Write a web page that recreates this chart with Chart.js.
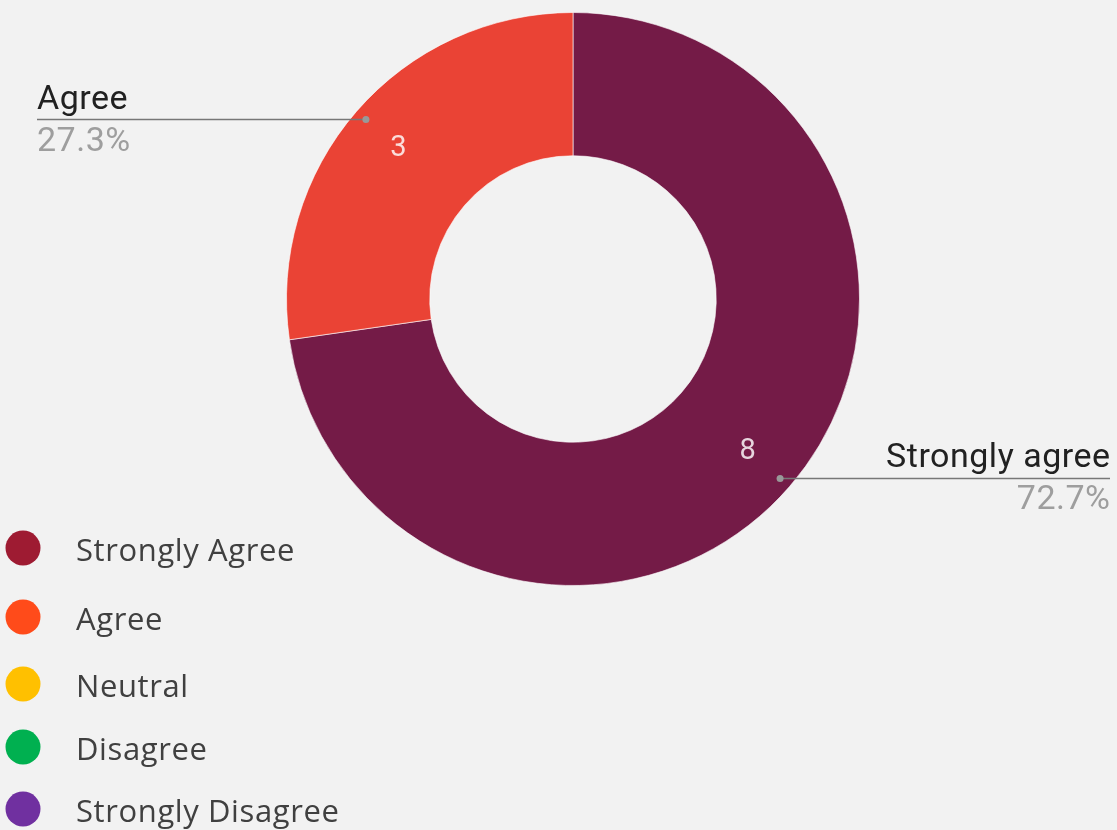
<!DOCTYPE html>
<html><head><meta charset="utf-8">
<script src="https://cdn.jsdelivr.net/npm/chart.js@4/dist/chart.umd.min.js"></script>
<style>
html,body{margin:0;padding:0;background:#f2f2f2;}
#wrap{position:relative;width:1117px;height:830px;}
</style></head>
<body><div id="wrap"><canvas id="c" width="1117" height="830"></canvas></div>
<script>
const categories = ['Strongly agree', 'Agree'];
const values = [8, 3];
const sliceColors = ['#741b47', '#ea4335'];
const legendLabels = ['Strongly Agree', 'Agree', 'Neutral', 'Disagree', 'Strongly Disagree'];
const legendColors = ['#9e1b32', '#ff4b1a', '#ffc000', '#00b050', '#7030a0'];

const calloutPlugin = {
  id: 'callouts',
  afterDatasetsDraw(chart) {
    const ctx = chart.ctx;
    const meta = chart.getDatasetMeta(0);
    const total = values.reduce((a, b) => a + b, 0);
    meta.data.forEach((arc, i) => {
      const mid = (arc.startAngle + arc.endAngle) / 2;
      const cx = arc.x, cy = arc.y;
      const rv = 231;
      ctx.save();
      ctx.font = '29px Roboto';
      ctx.fillStyle = 'rgba(255,255,255,0.82)';
      ctx.textAlign = 'center';
      ctx.textBaseline = 'middle';
      ctx.fillText(String(values[i]), cx + rv * Math.cos(mid), cy + rv * Math.sin(mid) + 1);
      const rd = 274;
      const dx = cx + rd * Math.cos(mid), dy = cy + rd * Math.sin(mid);
      const right = Math.cos(mid) > 0;
      const endX = right ? 1110 : 37;
      ctx.strokeStyle = '#777777';
      ctx.lineWidth = 1.6;
      ctx.beginPath(); ctx.moveTo(dx, dy); ctx.lineTo(endX, dy); ctx.stroke();
      ctx.fillStyle = '#999999';
      ctx.beginPath(); ctx.arc(dx, dy, 3.5, 0, Math.PI * 2); ctx.fill();
      ctx.textAlign = right ? 'right' : 'left';
      ctx.textBaseline = 'alphabetic';
      ctx.font = '34px Roboto';
      ctx.letterSpacing = '0.5px';
      const tx = right ? endX + 0.5 : endX;
      ctx.fillStyle = '#212121';
      ctx.fillText(categories[i], tx, dy - 11);
      ctx.fillStyle = '#9e9e9e';
      ctx.fillText((values[i] / total * 100).toFixed(1) + '%', tx, dy + 31);
      ctx.restore();
    });
    ctx.save();
    const ys = [548, 617, 684, 747, 809];
    legendLabels.forEach((lab, i) => {
      ctx.fillStyle = legendColors[i];
      ctx.beginPath(); ctx.arc(23, ys[i], 17.5, 0, Math.PI * 2); ctx.fill();
      ctx.fillStyle = '#404040';
      ctx.font = '31px "Open Sans"';
      ctx.letterSpacing = '0.6px';
      ctx.textAlign = 'left';
      ctx.textBaseline = 'middle';
      ctx.fillText(lab, 76, ys[i] + 4);
    });
    ctx.restore();
  }
};

new Chart(document.getElementById('c'), {
  type: 'doughnut',
  data: {
    labels: categories,
    datasets: [{
      data: values,
      backgroundColor: sliceColors,
      borderColor: 'rgba(255,255,255,0.6)',
      borderWidth: 1
    }]
  },
  options: {
    responsive: false,
    animation: false,
    cutout: '50%',
    layout: { padding: { left: 286, right: 257, top: 12, bottom: 244 } },
    plugins: { legend: { display: false }, tooltip: { enabled: false } }
  },
  plugins: [calloutPlugin]
});
</script></body></html>
